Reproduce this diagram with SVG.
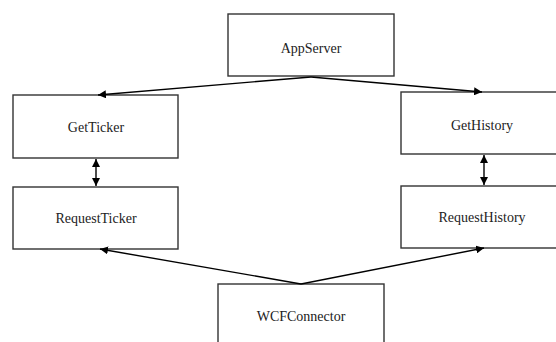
<svg xmlns="http://www.w3.org/2000/svg" width="556" height="342" viewBox="0 0 556 342">
<style>
.box{fill:#fff;stroke:#333;stroke-width:1.4}
.lbl{font-size:14px;fill:#222;text-anchor:middle}
.con{fill:none;stroke:#000;stroke-width:1.4}
</style>
<defs>
<marker id="ah" viewBox="0 0 10 10" refX="10" refY="5" markerWidth="8" markerHeight="8" markerUnits="userSpaceOnUse" orient="auto-start-reverse">
<path d="M0,0 L10,5 L0,10 z" fill="#000"/>
</marker>
</defs>
<rect width="556" height="342" fill="#fff"/>
<g font-family="'Liberation Serif', 'Times New Roman', 'DejaVu Serif', serif">
<g id="AppServer"><rect class="box" x="228" y="14" width="166" height="62"/><text class="lbl" x="311" y="53">AppServer</text></g>
<g id="GetTicker"><rect class="box" x="13" y="95" width="165" height="63"/><text class="lbl" x="96" y="132">GetTicker</text></g>
<g id="RequestTicker"><rect class="box" x="13" y="187" width="165" height="62"/><text class="lbl" x="96" y="223">RequestTicker</text></g>
<g id="GetHistory"><rect class="box" x="401" y="92" width="166" height="62"/><text class="lbl" x="482" y="130">GetHistory</text></g>
<g id="RequestHistory"><rect class="box" x="401" y="186" width="166" height="62"/><text class="lbl" x="482" y="222">RequestHistory</text></g>
<g id="WCFConnector"><rect class="box" x="218" y="284" width="166" height="70"/><text class="lbl" x="301" y="321">WCFConnector</text></g>
</g>
<g id="connectors">
<polyline class="con" points="98,95 311,77" marker-start="url(#ah)"/>
<polyline class="con" points="311,77 482,92" marker-end="url(#ah)"/>
<line class="con" x1="96" y1="159" x2="96" y2="186" marker-start="url(#ah)" marker-end="url(#ah)"/>
<line class="con" x1="484" y1="155" x2="484" y2="185" marker-start="url(#ah)" marker-end="url(#ah)"/>
<polyline class="con" points="100,249 301,284" marker-start="url(#ah)"/>
<polyline class="con" points="301,284 484,248" marker-end="url(#ah)"/>
</g>
</svg>
